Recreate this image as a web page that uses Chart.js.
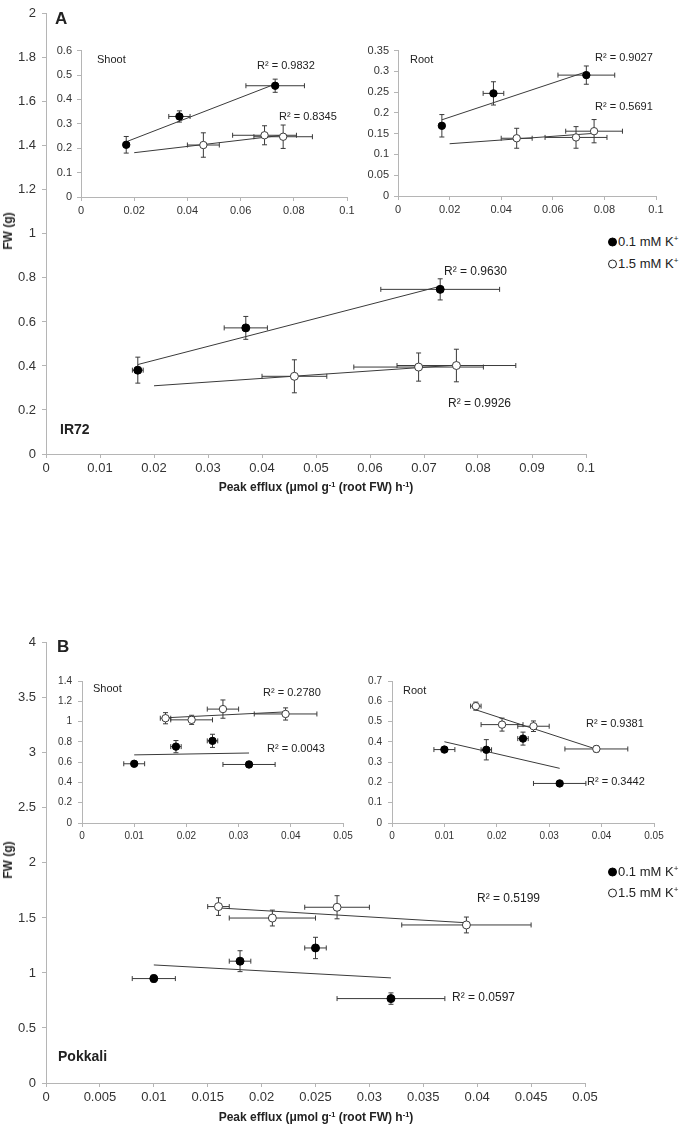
<!DOCTYPE html>
<html>
<head>
<meta charset="utf-8">
<script src="https://cdn.jsdelivr.net/npm/chart.js@4.4.1/dist/chart.umd.min.js"></script>
<style>
  html, body { margin: 0; padding: 0; background: #fff; }
  #page { position: relative; width: 683px; height: 1127px; overflow: hidden;
          font-family: "Liberation Sans", Arial, sans-serif; color: #222; }
  canvas { position: absolute; }
  .lbl { position: absolute; white-space: nowrap; transform: translateY(-50%); line-height: 1; }
  .b { font-weight: bold; }
  sup { font-size: 0.62em; vertical-align: 0.55em; line-height: 0; }
  .ytitle { position: absolute; white-space: nowrap; font-weight: bold; font-size: 12px;
            transform: translate(-50%, -50%) rotate(-90deg); line-height: 1; }
  .xtitle { position: absolute; white-space: nowrap; font-weight: bold; font-size: 12px;
            transform: translate(-50%, -50%); line-height: 1; }
  .dot { display: inline-block; width: 7px; height: 7px; border-radius: 50%;
         border: 1px solid #222; vertical-align: -1px; margin-right: 1px; }
  .dot.filled { background: #000; border-color: #000; }
</style>
</head>
<body>
<div id="page"></div>
<script>
// ---- Panel A (IR72) ----
const effluxA_low = [0.017, 0.037, 0.073];
const effluxA_lowErr = [0.001, 0.004, 0.011];
const effluxA_high = [0.046, 0.069, 0.076];
const effluxA_highErr = [0.006, 0.012, 0.011];

const fwA_low = [0.381, 0.573, 0.748];
const fwA_lowErr = [0.059, 0.052, 0.048];
const fwA_high = [0.353, 0.395, 0.402];
const fwA_highErr = [0.075, 0.064, 0.074];

const shootA_low = [0.214, 0.330, 0.456];
const shootA_lowErr = [0.034, 0.023, 0.027];
const shootA_high = [0.213, 0.253, 0.247];
const shootA_highErr = [0.050, 0.039, 0.048];

const rootA_low = [0.169, 0.247, 0.291];
const rootA_lowErr = [0.027, 0.028, 0.022];
const rootA_high = [0.139, 0.141, 0.156];
const rootA_highErr = [0.024, 0.026, 0.028];

// x range over which the Excel trendlines are drawn
const trendA_low = [0.017, 0.073];
const trendA_high = [0.020, 0.076];

// ---- Panel B (Pokkali) ----
const effluxB_low = [0.010, 0.018, 0.025, 0.032];
const effluxB_lowErr = [0.002, 0.001, 0.001, 0.005];
const effluxB_high = [0.016, 0.021, 0.027, 0.039];
const effluxB_highErr = [0.001, 0.004, 0.003, 0.006];

const fwB_low = [0.949, 1.107, 1.227, 0.767];
const fwB_lowErr = [0.033, 0.095, 0.097, 0.052];
const fwB_high = [1.603, 1.499, 1.597, 1.436];
const fwB_highErr = [0.080, 0.072, 0.105, 0.072];

const shootB_low = [0.584, 0.753, 0.810, 0.577];
const shootB_lowErr = [0.012, 0.060, 0.065, 0.030];
const shootB_high = [1.033, 1.017, 1.123, 1.075];
const shootB_highErr = [0.055, 0.045, 0.090, 0.060];

const rootB_low = [0.362, 0.361, 0.416, 0.195];
const rootB_lowErr = [0.012, 0.050, 0.032, 0.010];
const rootB_high = [0.576, 0.485, 0.477, 0.365];
const rootB_highErr = [0.020, 0.032, 0.026, 0.015];

const trendB_low = [0.010, 0.032];
const trendB_high = [0.016, 0.039];

// R² labels as printed on the figure
const r2A = { main: ['0.9630', '0.9926'], shoot: ['0.9832', '0.8345'], root: ['0.9027', '0.5691'] };
const r2B = { main: ['0.5199', '0.0597'], shoot: ['0.2780', '0.0043'], root: ['0.9381', '0.3442'] };

const FONT = '"Liberation Sans", Arial, sans-serif';
const INK = '#3a3a3a';
const AXIS = '#b5b5b5';
const page = document.getElementById('page');

function fmt(v) {
    return String(Math.round(v * 1e6) / 1e6);
}

// least squares fit, evaluated at the ends of the trend range
function fitLine(xs, ys, range) {
    const n = xs.length;
    const mx = xs.reduce((a, b) => a + b, 0) / n;
    const my = ys.reduce((a, b) => a + b, 0) / n;
    let sxy = 0, sxx = 0;
    for (let i = 0; i < n; i++) {
        sxy += (xs[i] - mx) * (ys[i] - my);
        sxx += (xs[i] - mx) * (xs[i] - mx);
    }
    const slope = sxy / sxx;
    return range.map(x => ({ x: x, y: my + slope * (x - mx) }));
}

// draws x/y error bars under the markers
const errorBars = {
    id: 'errorBars',
    beforeDatasetsDraw(chart) {
        const { ctx } = chart;
        const sx = chart.scales.x, sy = chart.scales.y;
        ctx.save();
        ctx.strokeStyle = INK;
        ctx.lineWidth = 1;
        const cap = 2.5;
        chart.data.datasets.forEach(ds => {
            if (!ds.errX) return;
            ds.data.forEach((p, i) => {
                const px = sx.getPixelForValue(p.x);
                const py = sy.getPixelForValue(p.y);
                const ex = ds.errX[i], ey = ds.errY[i];
                ctx.beginPath();
                if (ex) {
                    const x0 = sx.getPixelForValue(p.x - ex);
                    const x1 = sx.getPixelForValue(p.x + ex);
                    ctx.moveTo(x0, py); ctx.lineTo(x1, py);
                    ctx.moveTo(x0, py - cap); ctx.lineTo(x0, py + cap);
                    ctx.moveTo(x1, py - cap); ctx.lineTo(x1, py + cap);
                }
                if (ey) {
                    const y0 = sy.getPixelForValue(p.y - ey);
                    const y1 = sy.getPixelForValue(p.y + ey);
                    ctx.moveTo(px, y0); ctx.lineTo(px, y1);
                    ctx.moveTo(px - cap, y0); ctx.lineTo(px + cap, y0);
                    ctx.moveTo(px - cap, y1); ctx.lineTo(px + cap, y1);
                }
                ctx.stroke();
            });
        });
        ctx.restore();
    }
};

function axis(max, step, size, horizontal, fit, pad) {
    return {
        type: 'linear',
        position: horizontal ? 'bottom' : 'left',
        min: 0,
        max: max,
        ticks: {
            stepSize: step,
            autoSkip: false,
            maxRotation: 0,
            padding: pad,
            color: '#333',
            font: { family: FONT, size: size },
            callback: v => fmt(v)
        },
        grid: { drawOnChartArea: false, drawTicks: true, tickLength: 4, color: AXIS },
        border: { color: AXIS, width: 1 },
        afterFit: s => { if (horizontal) s.height = fit; else s.width = fit; }
    };
}

// box = chart area in page pixels; the canvas is sized around it
function makeChart(box, cfg) {
    const c = document.createElement('canvas');
    const left = box.L - box.yW, top = box.T - box.padT;
    const w = box.R - box.L + box.yW + box.padR;
    const h = box.B - box.T + box.padT + box.xH;
    c.width = w; c.height = h;
    c.style.left = left + 'px'; c.style.top = top + 'px';
    c.style.width = w + 'px'; c.style.height = h + 'px';
    page.appendChild(c);

    const datasets = [];
    cfg.series.forEach(s => {
        datasets.push({
            data: fitLine(s.xs, s.ys, s.trend),
            showLine: true,
            borderColor: INK,
            borderWidth: 1,
            pointRadius: 0,
            order: 2
        });
        datasets.push({
            data: s.xs.map((x, i) => ({ x: x, y: s.ys[i] })),
            errX: s.xErr,
            errY: s.yErr,
            pointRadius: cfg.r,
            pointBackgroundColor: s.filled ? '#000' : '#fff',
            pointBorderColor: s.filled ? '#000' : INK,
            pointBorderWidth: 1,
            order: 1
        });
    });

    return new Chart(c, {
        type: 'scatter',
        data: { datasets: datasets },
        options: {
            responsive: false,
            animation: false,
            devicePixelRatio: 1,
            events: [],
            layout: { autoPadding: false, padding: { top: box.padT, right: box.padR, left: 0, bottom: 0 } },
            plugins: { legend: { display: false }, tooltip: { enabled: false } },
            scales: {
                x: axis(cfg.xMax, cfg.xStep, cfg.font, true, box.xH, cfg.xPad),
                y: axis(cfg.yMax, cfg.yStep, cfg.font, false, box.yW, cfg.yPad)
            }
        },
        plugins: [errorBars]
    });
}

function seriesPair(xl, xlE, yl, ylE, tl, xh, xhE, yh, yhE, th) {
    return [
        { xs: xl, xErr: xlE, ys: yl, yErr: ylE, filled: true, trend: tl },
        { xs: xh, xErr: xhE, ys: yh, yErr: yhE, filled: false, trend: th }
    ];
}

function label(html, x, cy, size, bold) {
    const d = document.createElement('div');
    d.className = 'lbl' + (bold ? ' b' : '');
    d.style.left = x + 'px';
    d.style.top = cy + 'px';
    d.style.fontSize = size + 'px';
    d.innerHTML = html;
    page.appendChild(d);
}

function titles(cxX, cyX, cyY) {
    const t = document.createElement('div');
    t.className = 'xtitle';
    t.style.left = cxX + 'px'; t.style.top = cyX + 'px';
    t.innerHTML = 'Peak efflux (\u03bcmol g<sup>-1</sup> (root FW) h<sup>-1</sup>)';
    page.appendChild(t);
    const y = document.createElement('div');
    y.className = 'ytitle';
    y.style.left = '8px'; y.style.top = cyY + 'px';
    y.textContent = 'FW (g)';
    page.appendChild(y);
}

function legend(x, y1, y2) {
    label('<span class="dot filled"></span>0.1 mM K<sup>+</sup>', x, y1, 13, false);
    label('<span class="dot"></span>1.5 mM K<sup>+</sup>', x, y2, 13, false);
}

// ---------- Panel A ----------
const seriesA_main = seriesPair(effluxA_low, effluxA_lowErr, fwA_low, fwA_lowErr, trendA_low,
    effluxA_high, effluxA_highErr, fwA_high, fwA_highErr, trendA_high);
const seriesA_shoot = seriesPair(effluxA_low, effluxA_lowErr, shootA_low, shootA_lowErr, trendA_low,
    effluxA_high, effluxA_highErr, shootA_high, shootA_highErr, trendA_high);
const seriesA_root = seriesPair(effluxA_low, effluxA_lowErr, rootA_low, rootA_lowErr, trendA_low,
    effluxA_high, effluxA_highErr, rootA_high, rootA_highErr, trendA_high);

makeChart({ L: 46, R: 586, T: 9, B: 454, yW: 46, xH: 28, padT: 9, padR: 16 },
    { xMax: 0.1, xStep: 0.01, yMax: 2, yStep: 0.2, font: 13, xPad: 3, yPad: 6, r: 4, series: seriesA_main });
makeChart({ L: 81, R: 347, T: 47, B: 197, yW: 30, xH: 24, padT: 8, padR: 14 },
    { xMax: 0.1, xStep: 0.02, yMax: 0.6, yStep: 0.1, font: 11, xPad: 3, yPad: 5, r: 3.7, series: seriesA_shoot });
makeChart({ L: 398, R: 656, T: 47, B: 196, yW: 34, xH: 24, padT: 8, padR: 14 },
    { xMax: 0.1, xStep: 0.02, yMax: 0.35, yStep: 0.05, font: 11, xPad: 3, yPad: 5, r: 3.7, series: seriesA_root });

label('A', 55, 18, 17, true);
label('IR72', 60, 429, 14, true);
label('Shoot', 97, 59, 11, false);
label('Root', 410, 59, 11, false);
label('R\u00b2 = ' + r2A.main[0], 444, 271, 12, false);
label('R\u00b2 = ' + r2A.main[1], 448, 403, 12, false);
label('R\u00b2 = ' + r2A.shoot[0], 257, 65, 11, false);
label('R\u00b2 = ' + r2A.shoot[1], 279, 116, 11, false);
label('R\u00b2 = ' + r2A.root[0], 595, 57, 11, false);
label('R\u00b2 = ' + r2A.root[1], 595, 106, 11, false);
legend(608, 241, 263);
titles(316, 487, 231);

// ---------- Panel B ----------
const seriesB_main = seriesPair(effluxB_low, effluxB_lowErr, fwB_low, fwB_lowErr, trendB_low,
    effluxB_high, effluxB_highErr, fwB_high, fwB_highErr, trendB_high);
const seriesB_shoot = seriesPair(effluxB_low, effluxB_lowErr, shootB_low, shootB_lowErr, trendB_low,
    effluxB_high, effluxB_highErr, shootB_high, shootB_highErr, trendB_high);
const seriesB_root = seriesPair(effluxB_low, effluxB_lowErr, rootB_low, rootB_lowErr, trendB_low,
    effluxB_high, effluxB_highErr, rootB_high, rootB_highErr, trendB_high);

makeChart({ L: 46, R: 585, T: 638, B: 1083, yW: 46, xH: 28, padT: 9, padR: 18 },
    { xMax: 0.05, xStep: 0.005, yMax: 4, yStep: 0.5, font: 13, xPad: 3, yPad: 6, r: 4, series: seriesB_main });
makeChart({ L: 82, R: 343, T: 677, B: 823, yW: 32, xH: 24, padT: 8, padR: 14 },
    { xMax: 0.05, xStep: 0.01, yMax: 1.4, yStep: 0.2, font: 10, xPad: 3, yPad: 6, r: 3.7, series: seriesB_shoot });
makeChart({ L: 392, R: 654, T: 677, B: 823, yW: 32, xH: 24, padT: 8, padR: 14 },
    { xMax: 0.05, xStep: 0.01, yMax: 0.7, yStep: 0.1, font: 10, xPad: 3, yPad: 6, r: 3.7, series: seriesB_root });

label('B', 57, 646, 17, true);
label('Pokkali', 58, 1056, 14, true);
label('Shoot', 93, 688, 11, false);
label('Root', 403, 690, 11, false);
label('R\u00b2 = ' + r2B.main[0], 477, 898, 12, false);
label('R\u00b2 = ' + r2B.main[1], 452, 997, 12, false);
label('R\u00b2 = ' + r2B.shoot[0], 263, 692, 11, false);
label('R\u00b2 = ' + r2B.shoot[1], 267, 748, 11, false);
label('R\u00b2 = ' + r2B.root[0], 586, 723, 11, false);
label('R\u00b2 = ' + r2B.root[1], 587, 781, 11, false);
legend(608, 871, 892);
titles(316, 1117, 860);
</script>
</body>
</html>
